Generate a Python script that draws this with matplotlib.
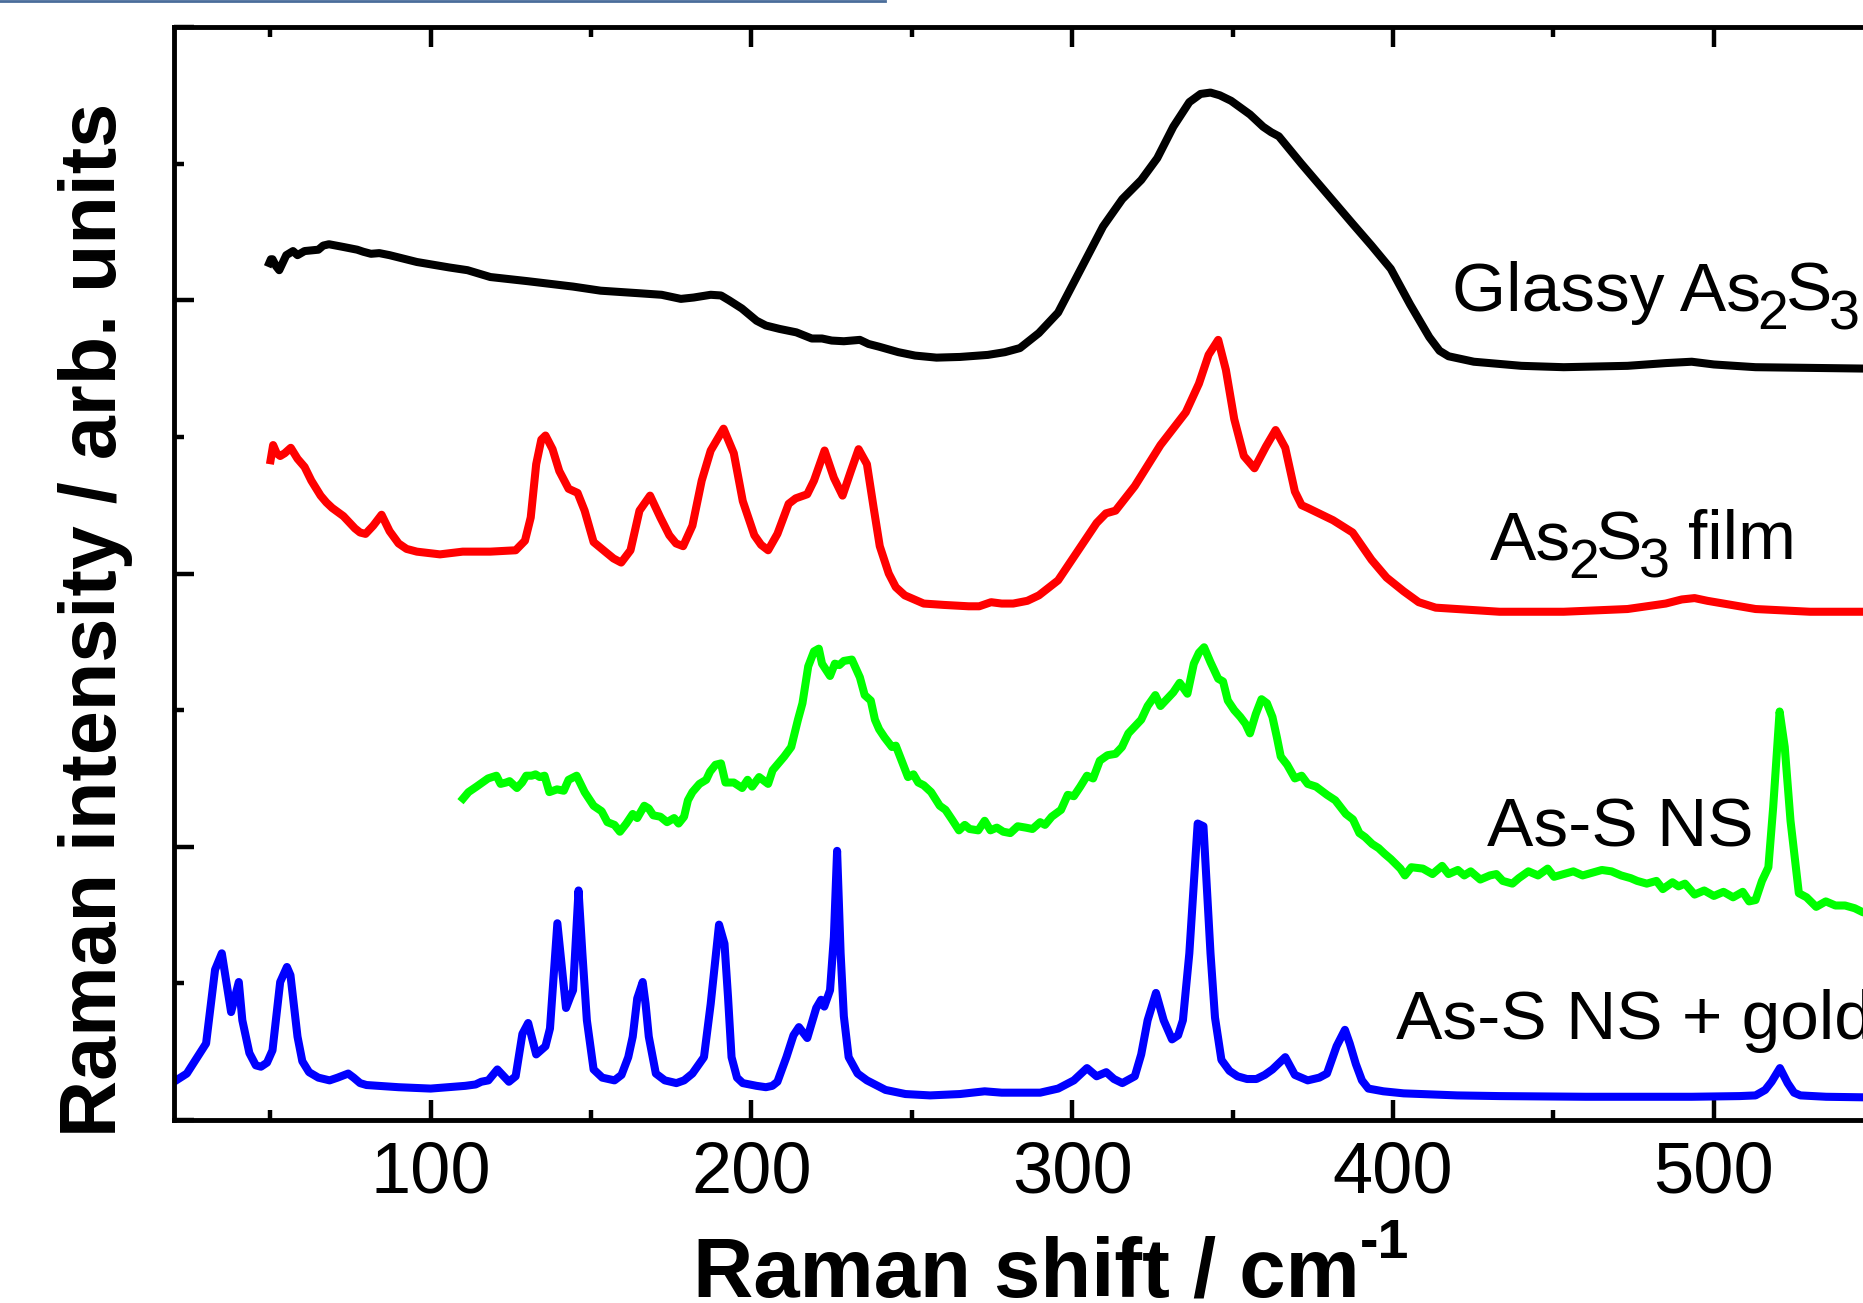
import matplotlib
matplotlib.use("Agg")
import matplotlib.pyplot as plt
from matplotlib.lines import Line2D
from matplotlib.ticker import MultipleLocator

plt.rcParams['font.family'] = ['Liberation Sans', 'DejaVu Sans']

# ---------------- data ----------------
glassy_x = [49.2, 50.2, 50.7, 51.8, 52.8, 55.0, 57.1, 58.5, 60.7, 65, 66.5, 68.3, 72.8, 77.1, 79, 81.4, 84,
            87.2, 95.7, 105.8, 111.5, 118.6, 130.1, 144.4, 153, 165.8, 172, 178, 182, 187.3, 190.5, 193,
            197, 201.6, 204.5, 208.8, 214, 218.8, 222, 225, 228.8, 233.8, 236.5, 239.8, 245.8, 251, 257.7,
            265, 273.7, 279, 283.7, 289.6, 295.6, 301.6, 309.6, 315.6, 321.5, 326.5, 331.5, 336.5, 340,
            343.1, 346, 349.5, 355.4, 359.5, 362, 364.4, 371.4, 379.4, 387.4, 393.3, 399.3, 405.3, 411.3,
            414.5, 417.3, 425.2, 440, 453.2, 473.1, 485, 493.1, 500, 513, 530, 546.5, 560]
glassy_y = [6.245, 6.30, 6.30, 6.25, 6.22, 6.33, 6.36, 6.33, 6.36, 6.37, 6.40, 6.41, 6.39, 6.37, 6.355, 6.34,
            6.345, 6.33, 6.28, 6.24, 6.22, 6.17, 6.14, 6.10, 6.07, 6.05, 6.04, 6.01, 6.02, 6.04, 6.035, 6.00,
            5.94, 5.85, 5.815, 5.79, 5.765, 5.72, 5.72, 5.705, 5.70, 5.71, 5.68, 5.66, 5.62, 5.595, 5.58,
            5.585, 5.60, 5.62, 5.65, 5.76, 5.91, 6.18, 6.54, 6.74, 6.88, 7.04, 7.27, 7.45, 7.51,
            7.52, 7.50, 7.46, 7.36, 7.27, 7.23, 7.20, 7.00, 6.78, 6.56, 6.40, 6.23, 5.97, 5.73,
            5.63, 5.59, 5.55, 5.52, 5.51, 5.52, 5.54, 5.55, 5.53, 5.51, 5.505, 5.50, 5.50]

film_x = [49.9, 50.9, 52, 53.1, 54.5, 56.4, 58.5, 60.7, 62.8, 65.7, 67.5, 69.3, 72.8, 76.4, 78, 79.7, 82.1,
          84.7, 87.2, 90.0, 92.5, 95.7, 102.9, 110, 118.6, 126.5, 129.4, 131.2, 132.9, 134.5, 135.8, 138,
          140.1, 143, 145.8, 148, 150.8, 154.4, 157, 159.4, 162.3, 165.1, 168.4, 171.6, 174.4, 176.5, 178.7,
          181.6, 184.5, 187.3, 191.3, 194.5, 197.3, 200.9, 203, 205.2, 208.1, 211.6, 213.8, 217.4, 219.5,
          222.8, 225.7, 228.4, 231, 233.4, 236, 238.1, 240, 242.8, 245, 247.8, 253.7, 260, 267.7, 271,
          274.7, 278, 281.6, 286, 289.6, 295.6, 301.6, 307.6, 310.5, 313.5, 319.5, 327.5, 335.4, 339.5,
          342.5, 345.5, 347.9, 350.5, 353.5, 356.8, 360.4, 363.4, 366.4, 369.4, 371.5, 373.4, 381.3,
          387.4, 393.3, 398, 403.3, 408, 413.3, 433.2, 453.2, 473.1, 485, 490, 494, 498, 503, 513, 530,
          546.5, 560]
film_y = [4.80, 4.94, 4.88, 4.86, 4.88, 4.92, 4.84, 4.78, 4.68, 4.57, 4.52, 4.48, 4.42, 4.33, 4.30, 4.29, 4.35,
          4.43, 4.31, 4.22, 4.18, 4.16, 4.14, 4.16, 4.16, 4.17, 4.24, 4.41, 4.80, 4.98, 5.01, 4.91,
          4.75, 4.62, 4.59, 4.46, 4.23, 4.16, 4.11, 4.08, 4.17, 4.46, 4.57, 4.41, 4.28, 4.22, 4.20,
          4.35, 4.68, 4.90, 5.06, 4.88, 4.53, 4.28, 4.21, 4.17, 4.29, 4.51, 4.55, 4.58, 4.68,
          4.90, 4.70, 4.57, 4.75, 4.91, 4.80, 4.48, 4.20, 4.00, 3.90, 3.84, 3.78, 3.77, 3.76, 3.76,
          3.79, 3.78, 3.78, 3.80, 3.84, 3.95, 4.16, 4.37, 4.44, 4.46, 4.64, 4.94, 5.18, 5.39,
          5.60, 5.71, 5.49, 5.13, 4.86, 4.77, 4.93, 5.05, 4.92, 4.60, 4.50, 4.48, 4.39,
          4.30, 4.10, 3.97, 3.87, 3.79, 3.75, 3.72, 3.72, 3.74, 3.78, 3.81, 3.82, 3.80, 3.78, 3.74, 3.72,
          3.72, 3.72]

ns_x = [109.3, 111.8, 114.3, 117.9, 120.5, 121.8, 123.5, 124.6, 126.9, 128.5, 129.8, 131.5, 132.7, 134, 135.5,
        137, 139.4, 141.5, 143, 145.5, 148, 150.8, 153.3, 155.1, 157.3, 159, 161, 163, 164.4, 166.6, 168,
        169.4, 171.6, 173.7, 175.9, 177.3, 179, 180.2, 181.6, 183.8, 185.9, 187.1, 188.8, 190.5, 191.9,
        194.5, 197.1, 198.8, 200.2, 202.4, 205.2, 206.6, 210.2, 212.4, 214.5, 215.9, 217.7, 219.5, 221,
        222, 224.5, 226, 227.4, 228.8, 231.3, 233.8, 235.3, 237.2, 238.5, 239.8, 241.5, 243.8, 245, 246.8,
        248.8, 250.5, 252, 253.7, 256, 258.7, 260.5, 262.5, 264.7, 266.5, 268, 270.7, 272.7, 274.5, 276.5,
        278.5, 280.7, 283, 285.5, 287.6, 290, 291.5, 293.6, 296.5, 298.6, 300.5, 302.5, 304.6, 306.5,
        308.6, 311, 313.5, 315.5, 317.5, 319.5, 321.5, 323.5, 325.9, 327.5, 329.5, 331.5, 333.5, 335.9,
        337.9, 339.5, 341.1, 343.1, 345.5, 347, 348.5, 350.5, 352.4, 354, 355.4, 357.2, 359, 360.7, 362.4,
        363.8, 365, 367, 369.4, 371.5, 373.4, 376, 379.4, 382, 385.3, 387.5, 389.5, 391.3, 393.5, 395.5,
        397.3, 399.3, 402.3, 403.7, 405.7, 409.3, 412.3, 415.3, 417.3, 420.2, 422.2, 424.2, 427.2, 430.2,
        432.2, 434.2, 437.2, 439.2, 442.2, 445.2, 448.2, 450.2, 453.2, 456.2, 459.1, 462.1, 465.1, 468.1,
        471.1, 474.1, 476.1, 479.1, 482.1, 484.1, 487.1, 489.0, 491.0, 494.0, 497.0, 500.0, 503.0, 506.0,
        509.0, 511.0, 513.0, 515.0, 517.0, 518.5, 520.5, 522.1, 523.9, 526.5, 528.9, 531.9, 534.9, 537.9,
        540.9, 543.9, 546.5, 560]
ns_y = [2.33, 2.40, 2.44, 2.50, 2.52, 2.46, 2.47, 2.48, 2.43, 2.47, 2.52, 2.52, 2.53, 2.51, 2.52,
        2.40, 2.42, 2.41, 2.49, 2.52, 2.40, 2.30, 2.26, 2.18, 2.16, 2.11, 2.17, 2.24, 2.21, 2.30, 2.28,
        2.23, 2.22, 2.18, 2.21, 2.17, 2.22, 2.34, 2.40, 2.46, 2.49, 2.55, 2.60, 2.61, 2.47,
        2.47, 2.43, 2.49, 2.44, 2.51, 2.46, 2.56, 2.66, 2.73, 2.93, 3.05, 3.32, 3.43, 3.45,
        3.34, 3.25, 3.34, 3.33, 3.36, 3.37, 3.24, 3.11, 3.07, 2.93, 2.86, 2.80, 2.73, 2.74, 2.63,
        2.51, 2.53, 2.47, 2.45, 2.40, 2.30, 2.27, 2.20, 2.12, 2.16, 2.13, 2.12, 2.19, 2.12, 2.14,
        2.11, 2.10, 2.15, 2.14, 2.13, 2.18, 2.16, 2.22, 2.27, 2.38, 2.37, 2.44, 2.52, 2.50,
        2.63, 2.67, 2.68, 2.73, 2.83, 2.88, 2.93, 3.03, 3.11, 3.03, 3.08, 3.13, 3.20, 3.12,
        3.34, 3.42, 3.46, 3.35, 3.23, 3.21, 3.07, 3.00, 2.95, 2.90, 2.83, 2.97, 3.08, 3.05, 2.95,
        2.80, 2.66, 2.60, 2.50, 2.52, 2.46, 2.44, 2.38, 2.34, 2.24, 2.20, 2.10, 2.07, 2.02, 1.99,
        1.95, 1.91, 1.84, 1.79, 1.85, 1.84, 1.80, 1.86, 1.80, 1.83, 1.79, 1.82, 1.76, 1.79,
        1.80, 1.75, 1.73, 1.77, 1.82, 1.79, 1.84, 1.78, 1.80, 1.82, 1.79, 1.81, 1.83, 1.82,
        1.79, 1.77, 1.75, 1.73, 1.75, 1.69, 1.74, 1.71, 1.73, 1.65, 1.68, 1.64, 1.67, 1.63,
        1.67, 1.60, 1.61, 1.75, 1.85, 2.29, 2.99, 2.73, 2.19, 1.66, 1.63, 1.56, 1.60, 1.57,
        1.57, 1.55, 1.52, 1.50]

gold_x = [18, 24, 30, 32.8, 34.9, 37.8, 40.2, 41.3, 43.5, 45.5, 47.1, 49, 50.7, 53.1, 55.2, 56.3, 58.5, 60,
          62.1, 65, 68.5, 71, 74.3, 76, 78, 80, 90, 100, 110.8, 114, 115.8, 118, 120.8, 124.4, 126.5, 128.6,
          130.4, 132.9, 135.8, 137.2, 139.5, 142.2, 143.5, 144.4, 146.1, 147.3, 148.7, 150.8, 153.5, 157.3,
          159.5, 161.6, 163, 164.4, 166.1, 167, 168, 170.2, 173, 176.6, 179, 181.6, 185.2, 187.3, 189.9,
          191.6, 192.7, 193.8, 195.5, 197.3, 201.6, 204.5, 206.5, 208.1, 210.9, 213.1, 214.8, 217.4, 220.2,
          221.7, 222.7, 224.5, 225.7, 226.7, 227.8, 228.8, 230.3, 233.1, 236, 241.8, 248, 255.7, 265, 272.7,
          278, 283.7, 290, 295.6, 300.5, 304.6, 307.6, 310.6, 313, 315.6, 319.5, 321.5, 323.5, 326.1, 328.5,
          331.1, 333, 334.5, 336.5, 339.1, 340.9, 343.1, 344.5, 346.5, 349, 351.5, 354.5, 357.4, 360, 362.4,
          366.4, 368, 369.4, 373.4, 377, 379.4, 382.4, 385, 386.5, 388.4, 390.3, 392.3, 397, 403.3, 420,
          433.2, 460, 493.1, 508, 513, 516, 518, 520.6, 523, 525, 527, 535, 546.5, 560]
gold_y = [0.25, 0.34, 0.56, 1.10, 1.22, 0.79, 1.01, 0.73, 0.49, 0.40, 0.39, 0.42, 0.51, 1.01, 1.12, 1.06, 0.61, 0.43,
          0.35, 0.31, 0.29, 0.31, 0.34, 0.31, 0.27, 0.256, 0.24, 0.23, 0.25, 0.26, 0.28, 0.29, 0.37, 0.28, 0.32, 0.63,
          0.71, 0.48, 0.54, 0.67, 1.44, 0.82, 0.90, 0.95, 1.68, 1.22, 0.73, 0.37, 0.31, 0.29,
          0.33, 0.46, 0.61, 0.89, 1.01, 0.85, 0.61, 0.34, 0.29, 0.27, 0.29, 0.34, 0.46, 0.85, 1.43,
          1.29, 0.90, 0.46, 0.31, 0.27, 0.25, 0.24, 0.25, 0.28, 0.46, 0.62, 0.68, 0.60, 0.82,
          0.88, 0.83, 0.95, 1.34, 1.97, 1.22, 0.76, 0.46, 0.34, 0.29, 0.22, 0.19, 0.18, 0.19, 0.21,
          0.20, 0.20, 0.20, 0.23, 0.29, 0.38, 0.32, 0.35, 0.30, 0.27, 0.32, 0.48, 0.73, 0.93, 0.73,
          0.59, 0.62, 0.73, 1.22, 2.17, 2.15, 1.22, 0.75, 0.44, 0.36, 0.32, 0.30, 0.30, 0.33, 0.37,
          0.46, 0.39, 0.33, 0.29, 0.31, 0.34, 0.54, 0.66, 0.56, 0.41, 0.29, 0.23, 0.21, 0.195, 0.18,
          0.175, 0.17, 0.17, 0.175, 0.18, 0.22, 0.28, 0.38, 0.27, 0.20, 0.18, 0.17, 0.166, 0.165]

# label pieces: (text, is_subscript, word-space before)
label_pieces = [
    [('Glassy As', False, False), ('2', True, False), ('S', False, False), ('3', True, False)],
    [('As', False, False), ('2', True, False), ('S', False, False), ('3', True, False), ('film', False, True)],
    [('As-S NS', False, False)],
    [('As-S NS + gold', False, False)],
]
label_x = [418.3, 430.2, 429.2, 400.9]
label_y = [5.92, 4.10, 2.0, 0.59]
colors = ['#000000', '#ff0000', '#00ff00', '#0000ff']

xticks_major = [100, 200, 300, 400, 500]
xlabel = 'Raman shift / cm'
xlabel_sup = '-1'
ylabel = 'Raman intensity / arb. units'

# ---------------- figure ----------------
W, H = 1863, 1303
fig = plt.figure(figsize=(W / 100, H / 100), dpi=100)
xmin, xmax = 20, 560
px_per_unit = 3.208
ax_left, ax_right_px = 174, 174 + (xmax - xmin) * px_per_unit
ax_top, ax_bot = 27, 1120
ax = fig.add_axes([ax_left / W, 1 - ax_bot / H, (ax_right_px - ax_left) / W, (ax_bot - ax_top) / H])

series = [(glassy_x, glassy_y), (film_x, film_y), (ns_x, ns_y), (gold_x, gold_y)]
for (xs, ys), c in zip(series, colors):
    ax.plot(xs, ys, color=c, lw=5.8, solid_joinstyle='round', solid_capstyle='butt')

FS, SUB_FS, SUB_DROP = 50, 40, 13.5
DESC = 0.212 * FS  # descent of the main text, points
for pieces, x, y in zip(label_pieces, label_x, label_y):
    first = ax.text(x, y, pieces[0][0], fontsize=FS, color='black', ha='left', va='baseline')
    prev = first
    for txt, is_sub, space in pieces[1:]:
        gap = (0.278 * FS - 1.0) if space else -2.2
        dy = DESC - (SUB_DROP if is_sub else 0.0)
        prev = ax.annotate(txt, xy=(1, 0), xycoords=(prev, first), xytext=(gap, dy),
                           textcoords='offset points', fontsize=SUB_FS if is_sub else FS,
                           color='black', ha='left', va='baseline', annotation_clip=False)

ax.set_xlim(xmin, xmax)
ax.set_ylim(0, 8)
ax.xaxis.set_major_locator(plt.FixedLocator(xticks_major))
ax.xaxis.set_minor_locator(MultipleLocator(50))
ax.yaxis.set_major_locator(MultipleLocator(2))
ax.yaxis.set_minor_locator(MultipleLocator(1))
ax.tick_params(which='both', direction='in', top=True, right=True, bottom=True, left=True,
               labelleft=False, width=3.2, color='black')
ax.tick_params(which='major', length=14.5, labelsize=52, pad=14.5)
ax.tick_params(which='minor', length=7.2)
for side in ['left', 'bottom', 'top', 'right']:
    ax.spines[side].set_linewidth(3.5)

xl = ax.set_xlabel(xlabel, fontsize=60, fontweight='bold', ha='left', va='baseline')
ax.xaxis.set_label_coords((693 - ax_left) / (ax_right_px - ax_left), (ax_bot - 1297) / (ax_bot - ax_top))
ax.annotate(xlabel_sup, xy=(1, 1), xycoords=xl, xytext=(0.5, 13), textcoords='offset points',
            fontsize=40, fontweight='bold', ha='left', va='top', annotation_clip=False)
ax.set_ylabel(ylabel, fontsize=57, fontweight='bold', ha='center', va='center')
ax.yaxis.set_label_coords((96 - ax_left) / (ax_right_px - ax_left), (ax_bot - 620) / (ax_bot - ax_top))

# thin rule at the top-left edge of the source image
fig.add_artist(Line2D([0, 885 / W], [1 - 1.2 / H, 1 - 1.2 / H], color='#4a6d9a', lw=2.0))

fig.savefig('out.png', dpi=100)
